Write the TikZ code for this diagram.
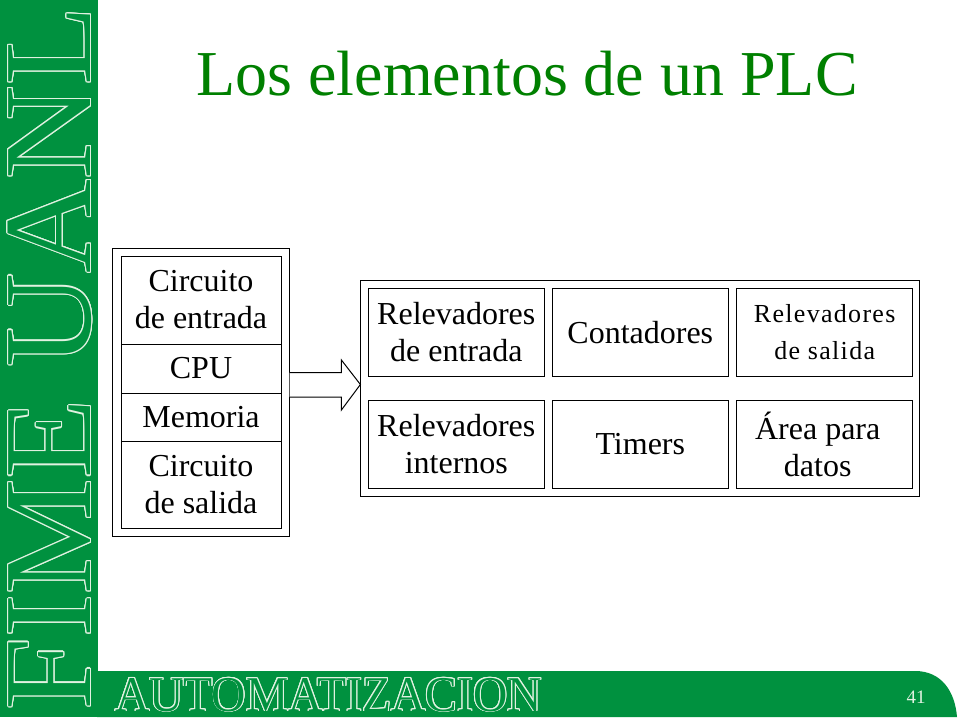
\documentclass[tikz,border=0pt]{standalone}
\usepackage{fontspec}
\setmainfont{Liberation Serif}
\usetikzlibrary{calc}
\definecolor{uanlgreen}{RGB}{0,145,63}
\definecolor{titlegreen}{RGB}{0,128,0}
\definecolor{outl}{RGB}{225,242,225}
\begin{document}
\begin{tikzpicture}[x=1pt,y=-1pt,
  cell/.style={draw=black,line width=1pt,inner sep=0pt,align=center,minimum width=160pt,font=\fontsize{32}{37}\selectfont},
  relbox/.style={draw=black,line width=1pt,inner sep=0pt,align=center,minimum width=176pt,minimum height=88pt,font=\fontsize{32}{37}\selectfont},
  frame/.style={draw=black,line width=1pt,inner sep=0pt},
  fimetext/.style={rotate=90,inner sep=0pt,font=\fontsize{125}{125}\selectfont\addfontfeature{FakeStretch=1.04}},
  autotext/.style={anchor=base west,inner sep=0pt,xscale=0.95,font=\fontsize{50}{50}\selectfont}]
\useasboundingbox (0,0) rectangle (960,720);
\fill[white] (0,0) rectangle (960,720);
% green decoration
\fill[uanlgreen] (0,0) rectangle (98,717);
\fill[uanlgreen] (97,671) -- (915,671) .. controls (942,671) and (955,692) .. (957,717) -- (97,717) -- cycle;
% outlined vertical lettering
\foreach \a [count=\i] in {0,22.5,...,337.5}
  \node[fimetext,text=outl] (fimeo\i) at ($(50,358)+(\a:1.1)$) {FIME UANL};
\node[fimetext,text=uanlgreen] (fime) at (50,358) {FIME UANL};
% outlined bottom lettering
\foreach \a [count=\i] in {0,22.5,...,337.5}
  \node[autotext,text=outl] (autoo\i) at ($(115,711)+(\a:0.9)$) {AUTOMATIZACION};
\node[autotext,text=uanlgreen] (auto) at (115,711) {AUTOMATIZACION};
\node[text=outl,inner sep=0pt,font=\fontsize{19}{19}\selectfont] (pg) at (916,697) {41};
% title
\node[text=titlegreen,anchor=base,inner sep=0pt,font=\fontsize{64}{64}\selectfont] (title) at (527,95) {Los elementos de un PLC};
% left block
\node[frame,minimum width=177pt,minimum height=288pt] (cpuouter) at (200.5,392) {};
\node[cell,minimum height=88pt] (cin) at (201,300) {Circuito\\de entrada};
\node[cell,minimum height=49pt] (cpu) at (201,368.5) {CPU};
\node[cell,minimum height=48pt] (mem) at (201,417) {Memoria};
\node[cell,minimum height=87pt] (cout) at (201,484.5) {Circuito\\de salida};
% right block
\node[frame,minimum width=559pt,minimum height=216pt] (mainbox) at (640.4,388) {};
\node[relbox] (r1) at (456.3,332.2) {Relevadores\\de entrada};
\node[relbox] (r2) at (640.3,332.2) {Contadores};
\node[relbox,font=\fontsize{26}{37}\selectfont\addfontfeature{LetterSpace=5}] (r3) at (824.7,332.2) {Relevadores\\de salida};
\node[relbox] (r4) at (456.3,444.5) {Relevadores\\internos};
\node[relbox] (r5) at (640.3,444.5) {Timers};
\node[relbox] (r6) at (824.7,444.5) {\hspace*{-14pt}Área para\\datos\hspace*{14pt}};
% block arrow
\coordinate (tip) at ($(mainbox.west)+(0,-3.5)$);
\draw[line width=1pt,fill=white,line join=miter]
  ($(cpuouter.east)+(0,-19.5)$) -- ($(tip)+(-19,-12)$) -- ($(tip)+(-19,-24.5)$) -- (tip)
  -- ($(tip)+(-19,25.5)$) -- ($(tip)+(-19,12.5)$) -- ($(cpuouter.east)+(0,5)$);
\end{tikzpicture}
\end{document}
